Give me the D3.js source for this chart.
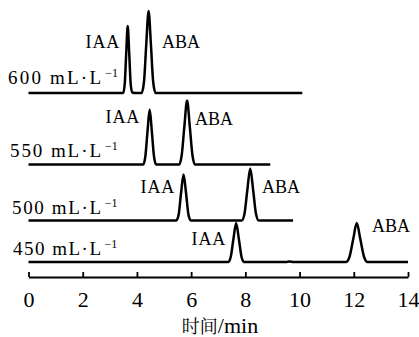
<!DOCTYPE html>
<html><head><meta charset="utf-8">
<script src="https://cdn.jsdelivr.net/npm/d3@7"></script>
<style>
@font-face { font-family: "RefSerif"; src: local("Liberation Serif"), local("LiberationSerif"), local("Times New Roman"); }
body { margin: 0; }
.serif { font-family: "Liberation Serif", "RefSerif", "Times New Roman", Times; }
.cjk { font-family: "Noto Serif CJK SC", "Noto Sans CJK SC"; }
</style>
</head><body>
<script>
// concentrations (series names)
const concentrations = ["600", "550", "500", "450"];
// vertical offset of each trace baseline (signal units)
const baselineOffsets = [169, 97.5, 41.5, 0];
// chromatogram traces: [time (min), detector signal]
const trace600 = [[0,0],[3.495,0],[3.55,9],[3.605,40],[3.66,67],[3.715,40],[3.77,9],[3.825,0.5],[3.95,0],[4.17,0],[4.26,11],[4.345,49],[4.43,82],[4.515,49],[4.60,11],[4.69,0],[10.1,0]];
const trace550 = [[0,0],[4.23,0],[4.31,8],[4.39,33],[4.47,55],[4.55,33],[4.63,8],[4.71,0],[5.56,0],[5.65,9],[5.75,38],[5.85,64],[5.95,38],[6.05,9],[6.14,0],[8.92,0]];
const trace500 = [[0,0],[5.45,0],[5.54,6],[5.63,28],[5.72,46],[5.81,28],[5.90,6],[5.99,0],[7.865,0],[7.97,7],[8.075,31],[8.18,52],[8.285,31],[8.39,7],[8.495,0],[9.76,0]];
const trace450 = [[0,0],[7.37,0],[7.46,5],[7.56,23],[7.66,39],[7.76,23],[7.86,5],[7.95,0],[9.5,0],[9.62,0.4],[9.78,0],[11.71,0],[11.84,5],[11.98,23],[12.11,39],[12.24,23],[12.38,5],[12.51,0],[14,0]];
const traces = [trace600, trace550, trace500, trace450];
// peak labels
const peakNames = ["IAA", "ABA"];
const xTicks = [0, 2, 4, 6, 8, 10, 12, 14];
const xTitleCn = "时间";
const xTitleUnit = "/min";
const unitText = "mL·L";
const unitSup = "−1";

function draw() {
  const W = 419, H = 337;
  const svg = d3.select("body").append("svg").attr("width", W).attr("height", H)
    .attr("class", "serif").style("display", "block");

  const x = d3.scaleLinear().domain([0, 14]).range([28.5, 408]);
  const y = d3.scaleLinear().domain([0, 250]).range([262, 12]);
  const line = d3.line().x(d => x(d[0])).curve(d3.curveMonotoneX);

  traces.forEach((tr, i) => {
    svg.append("path")
      .attr("d", line.y(d => y(d[1] + baselineOffsets[i]))(tr))
      .attr("fill", "none").attr("stroke", "#000").attr("stroke-width", 2.5)
      .attr("stroke-linejoin", "round");
  });

  // concentration labels: [x, baseline y]
  const concLabelPos = [[8, 84], [10, 157], [12, 214], [13, 255]];
  concentrations.forEach((c, i) => {
    const [lx, ly] = concLabelPos[i];
    const t = svg.append("text").attr("class", "serif").attr("x", lx).attr("y", ly)
      .attr("font-size", 19).attr("fill", "#000");
    t.append("tspan").attr("textLength", 101 - lx).attr("lengthAdjust", "spacing").text(c + " " + unitText);
    t.append("tspan").attr("dx", 2).attr("dy", -7).attr("font-size", 12).text(unitSup);
  });

  // peak labels: [trace, peak, x, baseline y, anchor]
  const peakLabelPos = [
    [0, 0, 120, 48, "end"], [0, 1, 162, 48, "start"],
    [1, 0, 140, 123, "end"], [1, 1, 195, 125, "start"],
    [2, 0, 175, 193, "end"], [2, 1, 262, 193, "start"],
    [3, 0, 226, 245, "end"], [3, 1, 372, 232, "start"]
  ];
  peakLabelPos.forEach(p => {
    svg.append("text").attr("class", "serif").attr("x", p[2]).attr("y", p[3]).attr("text-anchor", p[4])
      .attr("font-size", 18).attr("fill", "#000")
      .attr("letter-spacing", p[1] === 0 ? 0.8 : 0)
      .text(peakNames[p[1]]);
  });

  // x axis
  const axis = d3.axisBottom(x).tickValues(xTicks).tickSizeInner(-5).tickSizeOuter(0).tickPadding(14);
  const g = svg.append("g").attr("transform", "translate(0,277)").call(axis);
  g.attr("font-family", null).attr("class", "serif");
  g.select(".domain").attr("stroke-width", 2.2);
  g.selectAll(".tick line").attr("stroke-width", 1.8);
  g.selectAll(".tick text").attr("class", "serif").attr("font-size", 22).attr("fill", "#000");

  const title = svg.append("text").attr("x", 220).attr("y", 333).attr("text-anchor", "middle").attr("fill", "#000");
  title.append("tspan").attr("class", "cjk").attr("font-size", 18).text(xTitleCn);
  title.append("tspan").attr("class", "serif").attr("font-size", 22).text(xTitleUnit);
}
draw();
</script>
</body></html>
